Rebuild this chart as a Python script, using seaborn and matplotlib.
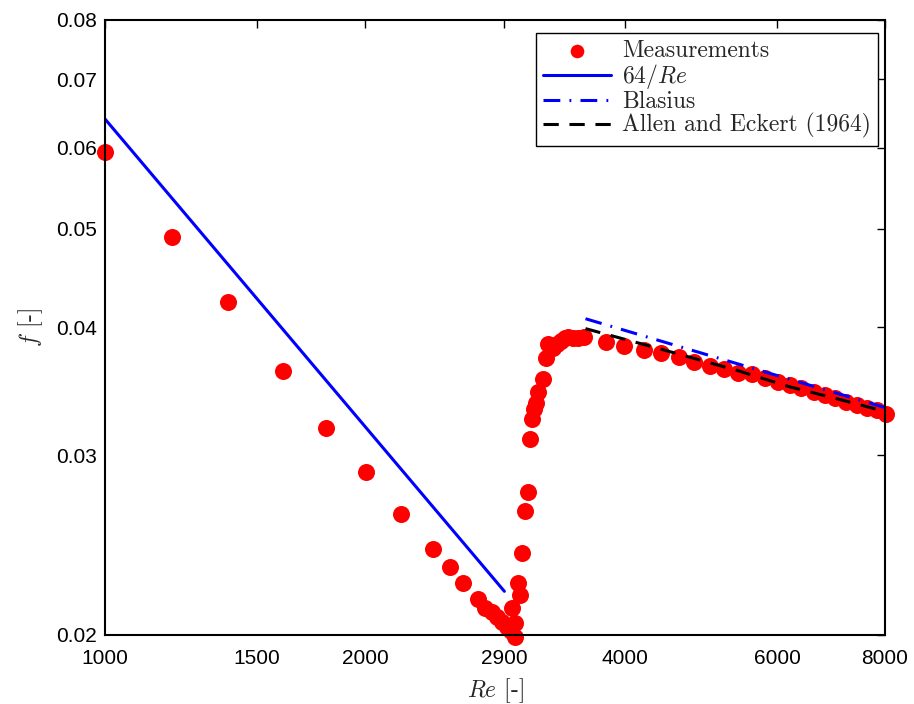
import matplotlib
matplotlib.use("Agg")
import matplotlib.pyplot as plt
import seaborn as sns
from matplotlib.ticker import FixedLocator, FixedFormatter, NullLocator

re_meas = [1000, 1196, 1388, 1607, 1803, 2005, 2201, 2397, 2508, 2597,
           2703, 2754, 2806, 2843, 2881, 2920, 2951, 2983, 2960, 2983,
           3007, 3023, 3039, 3064, 3088, 3105, 3121, 3138, 3155, 3172,
           3214, 3240, 3258, 3301, 3336, 3372, 3408, 3436, 3482, 3529,
           3586, 3802, 3990, 4207, 4403, 4619, 4808, 5017, 5207, 5405,
           5610, 5808, 6013, 6209, 6394, 6620, 6817, 7002, 7210, 7424,
           7626, 7830, 8021]
f_meas = [0.0594, 0.0491, 0.0424, 0.0363, 0.0319, 0.0289, 0.0263, 0.0243, 0.0233, 0.0225,
          0.02169, 0.02125, 0.02106, 0.02083, 0.02059, 0.02036, 0.02018, 0.01991, 0.02125, 0.02055,
          0.0225, 0.02189, 0.02406, 0.02646, 0.02761, 0.03112, 0.03255, 0.03329, 0.03375, 0.0346,
          0.03562, 0.03735, 0.03855, 0.0382, 0.03855, 0.03882, 0.03907, 0.03916, 0.03907, 0.03907,
          0.03916, 0.03873, 0.03838, 0.03804, 0.03778, 0.03744, 0.03702, 0.03669, 0.03644, 0.03611,
          0.03603, 0.0357, 0.03538, 0.03514, 0.0349, 0.0346, 0.03436, 0.03413, 0.03383, 0.0336,
          0.03337, 0.03323, 0.03291]

# reference curves
re_lam = [1000, 2900]
f_lam = [0.0640, 0.02207]
re_blas = [3600, 8000]
f_blas = [0.0408, 0.0334]
re_ae = [3600, 4400, 5400, 6200, 7100, 8000]
f_ae = [0.0399, 0.0381, 0.0363, 0.0350, 0.0340, 0.0331]

x_ticks = [1000, 1500, 2000, 2900, 4000, 6000, 8000]
x_labels = ["1000", "1500", "2000", "2900", "4000", "6000", "8000"]
y_ticks = [0.02, 0.03, 0.04, 0.05, 0.06, 0.07, 0.08]
y_labels = ["0.02", "0.03", "0.04", "0.05", "0.06", "0.07", "0.08"]

sns.set_style("white")
plt.rcParams["font.family"] = ["Liberation Sans", "DejaVu Sans"]
plt.rcParams["mathtext.fontset"] = "cm"
plt.rcParams["axes.unicode_minus"] = False
serif = ["cmr10", "DejaVu Serif"]

fig = plt.figure(figsize=(9.14, 7.04), dpi=100)
ax = fig.add_axes([105 / 914, 69 / 704, 780 / 914, 615 / 704])

sns.scatterplot(x=re_meas, y=f_meas, color="red", s=150, linewidth=0,
                label="Measurements", ax=ax, zorder=2, clip_on=False)
sns.lineplot(x=re_lam, y=f_lam, color="blue", linewidth=2.2, label=r"64/$Re$",
             ax=ax, zorder=3)
sns.lineplot(x=re_blas, y=f_blas, color="blue", linewidth=2.2, label="Blasius",
             ax=ax, zorder=3)
ax.lines[-1].set_dashes([5.5, 3, 0.6, 3])
sns.lineplot(x=re_ae, y=f_ae, color="black", linewidth=2.2,
             label="Allen and Eckert (1964)", ax=ax, zorder=3)
ax.lines[-1].set_dashes([5, 3.5])

ax.set_xscale("log")
ax.set_yscale("log")
ax.set_xlim(1000, 8000)
ax.set_ylim(0.02, 0.08)
ax.xaxis.set_major_locator(FixedLocator(x_ticks))
ax.xaxis.set_major_formatter(FixedFormatter(x_labels))
ax.yaxis.set_major_locator(FixedLocator(y_ticks))
ax.yaxis.set_major_formatter(FixedFormatter(y_labels))
ax.xaxis.set_minor_locator(NullLocator())
ax.yaxis.set_minor_locator(NullLocator())
ax.tick_params(axis="both", which="major", direction="in", length=6, width=1,
               top=True, right=True, labelsize=15, colors="black", pad=6)
ax.tick_params(axis="x", pad=10)

for sp in ax.spines.values():
    sp.set_visible(True)
    sp.set_color("black")
    sp.set_linewidth(1.5)
    sp.set_zorder(4)

ax.set_xlabel(r"$Re$ [-]", fontsize=17, family=serif, labelpad=6)
ax.set_ylabel(r"$f$ [-]", fontsize=17, family=serif, labelpad=8)

leg = ax.legend(loc="upper right", bbox_to_anchor=(878 / 914, 1 - 33 / 704),
                bbox_transform=fig.transFigure,
                prop={"family": serif, "size": 17},
                frameon=True, fancybox=False, framealpha=1, edgecolor="black",
                borderaxespad=0, labelspacing=0.0, handlelength=2.9,
                handletextpad=0.45, borderpad=0.3, markerscale=0.8)
leg.get_frame().set_linewidth(1)
leg.set_zorder(5)

fig.savefig("out.png", dpi=100)
